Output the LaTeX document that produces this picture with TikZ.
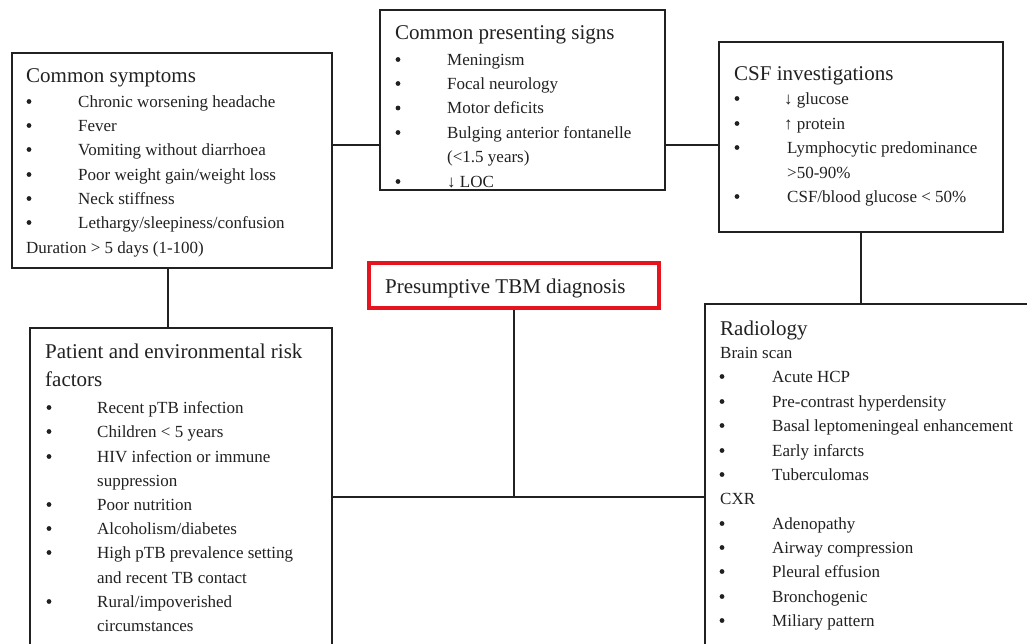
\documentclass[tikz,border=0pt]{standalone}
\usepackage{fontspec}
\setmainfont{Liberation Serif}
\definecolor{ink}{rgb}{0.13,0.13,0.13}
\definecolor{alertred}{RGB}{230,20,30}
\tikzset{
  box/.style={draw=ink, line width=1.4pt, fill=white, inner sep=0pt, outer sep=0pt, anchor=north west},
  keybox/.style={box, draw=alertred, line width=4pt},
  txt/.style={anchor=base west, inner sep=0pt, text=ink, font=\fontsize{17}{20}\selectfont},
  ttl/.style={txt, font=\fontsize{21}{24}\selectfont},
  bul/.style={circle, fill=ink, inner sep=0pt, minimum size=4.8pt},
  link/.style={draw=ink, line width=1.4pt},
}
% bullet item: name, bullet x, text x, baseline y, text
\newcommand\bitem[5]{%
  \node[bul] (#1b) at (#2,#4-5.5) {};
  \node[txt] (#1) at (#3,#4) {#5};}
\begin{document}
\begin{tikzpicture}[x=1pt,y=-1pt]
\useasboundingbox (0,0) rectangle (1027,643);
\clip (0,0) rectangle (1027,643);
\fill[white] (0,0) rectangle (1027,643);

% boxes
\node[box, minimum width=320pt, minimum height=215pt] (sym) at (12,53) {};
\node[box, minimum width=285pt, minimum height=180pt] (sig) at (380,10) {};
\node[box, minimum width=284pt, minimum height=190pt] (csf) at (719,42) {};
\node[box, minimum width=302pt, minimum height=340pt] (pat) at (30,328) {};
\node[box, minimum width=345pt, minimum height=360pt] (rad) at (705,304) {};
\node[keybox, minimum width=290pt, minimum height=45pt] (pres) at (369,263) {};

% connectors
\coordinate (j) at (pres.south |- 0,497);
\draw[link] (sym.east |- 0,145) -- (sig.west |- 0,145);
\draw[link] (sig.east |- 0,145) -- (csf.west |- 0,145);
\draw[link] (csf.south) -- (rad.north -| csf.south);
\draw[link] (sym.south -| 168,0) -- (pat.north -| 168,0);
\draw[link] (pat.east |- j) -- (rad.west |- j);
\draw[link] ([yshift=-2pt]pres.south) -- (j);

% Common symptoms
\node[ttl] (symt) at (26,82) {Common symptoms};
\bitem{sa}{29}{78}{107}{Chronic worsening headache}
\bitem{sb}{29}{78}{131}{Fever}
\bitem{sc}{29}{78}{155}{Vomiting without diarrhoea}
\bitem{sd}{29}{78}{180}{Poor weight gain/weight loss}
\bitem{se}{29}{78}{204}{Neck stiffness}
\bitem{sf}{29}{78}{228}{Lethargy/sleepiness/confusion}
\node[txt] (sdur) at (26,253) {Duration > 5 days (1-100)};

% Common presenting signs
\node[ttl] (sigt) at (395,39) {Common presenting signs};
\bitem{ga}{398}{447}{65}{Meningism}
\bitem{gb}{398}{447}{89}{Focal neurology}
\bitem{gc}{398}{447}{113.5}{Motor deficits}
\bitem{gd}{398}{447}{138}{Bulging anterior fontanelle}
\node[txt] (gd2) at (447,162.5) {(<1.5 years)};
\bitem{ge}{398}{447}{187}{↓ LOC}

% CSF investigations
\node[ttl] (csft) at (734,80) {CSF investigations};
\bitem{ca}{737}{784}{104}{↓ glucose}
\bitem{cb}{737}{784}{129}{↑ protein}
\bitem{cc}{737}{787}{153}{Lymphocytic predominance}
\node[txt] (cc2) at (787,178) {>50-90\%};
\bitem{cd}{737}{787}{202}{CSF/blood glucose < 50\%}

% Presumptive diagnosis
\node[ttl] (prest) at (385,293) {Presumptive TBM diagnosis};

% Patient and environmental risk factors
\node[ttl] (patt) at (45,358) {Patient and environmental risk};
\node[ttl] (patt2) at (45,386) {factors};
\bitem{pa}{49}{97}{413}{Recent pTB infection}
\bitem{pb}{49}{97}{437}{Children < 5 years}
\bitem{pc}{49}{97}{462}{HIV infection or immune}
\node[txt] (pc2) at (97,486) {suppression};
\bitem{pd}{49}{97}{510}{Poor nutrition}
\bitem{pe}{49}{97}{534}{Alcoholism/diabetes}
\bitem{pf}{49}{97}{558}{High pTB prevalence setting}
\node[txt] (pf2) at (97,583) {and recent TB contact};
\bitem{pg}{49}{97}{607}{Rural/impoverished}
\node[txt] (pg2) at (97,631) {circumstances};

% Radiology
\node[ttl] (radt) at (720,335) {Radiology};
\node[txt] (rbs) at (720,358) {Brain scan};
\bitem{ra}{722}{772}{382}{Acute HCP}
\bitem{rb}{722}{772}{407}{Pre-contrast hyperdensity}
\bitem{rc}{722}{772}{431}{Basal leptomeningeal enhancement}
\bitem{rd}{722}{772}{456}{Early infarcts}
\bitem{re}{722}{772}{480}{Tuberculomas}
\node[txt] (rcxr) at (720,504) {CXR};
\bitem{rf}{722}{772}{529}{Adenopathy}
\bitem{rg}{722}{772}{553}{Airway compression}
\bitem{rh}{722}{772}{577}{Pleural effusion}
\bitem{ri}{722}{772}{602}{Bronchogenic}
\bitem{rj}{722}{772}{626}{Miliary pattern}
\end{tikzpicture}
\end{document}
